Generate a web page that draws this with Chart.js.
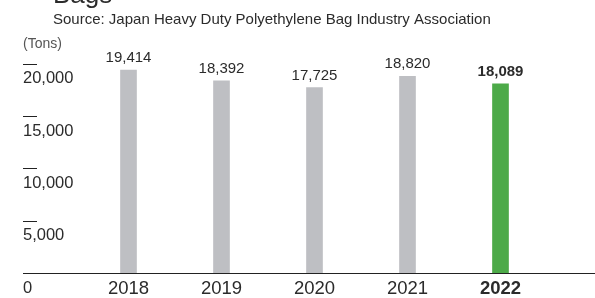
<!DOCTYPE html>
<html>
<head>
<meta charset="utf-8">
<script src="https://cdn.jsdelivr.net/npm/chart.js@4.4.0/dist/chart.umd.min.js"></script>
<style>
  body { margin: 0; background: #fff; }
  #wrap { width: 595px; height: 298px; }
</style>
</head>
<body>
<div id="wrap"><canvas id="myChart" width="595" height="298"></canvas></div>
<script>
const chartTitle = "Bags";
const chartSource = "Source: Japan Heavy Duty Polyethylene Bag Industry Association";
const unitLabel = "(Tons)";

const years = ["2018", "2019", "2020", "2021", "2022"];
const volumes = [19414, 18392, 17725, 18820, 18089];
const yTicks = [0, 5000, 10000, 15000, 20000];

const grey = "#bebfc3";
const green = "#4caa48";
const textColor = "#2b2b2b";
const lastIdx = years.length - 1;

Chart.defaults.font.family = "'Liberation Sans', Arial, Helvetica, sans-serif";

// title, axis line, tick dashes and value labels
const extras = {
    id: "extras",
    afterDatasetsDraw(chart) {
        const ctx = chart.ctx;
        const y = chart.scales.y;
        const meta = chart.getDatasetMeta(0);
        ctx.save();

        ctx.fillStyle = textColor;
        ctx.textAlign = "left";
        ctx.textBaseline = "alphabetic";
        ctx.font = "26px 'Liberation Sans', Arial, sans-serif";
        ctx.fillText(chartTitle, 53, 3);
        ctx.font = "15px 'Liberation Sans', Arial, sans-serif";
        ctx.fillText(chartSource, 53, 24);
        ctx.fillStyle = "#555";
        ctx.font = "14px 'Liberation Sans', Arial, sans-serif";
        ctx.fillText(unitLabel, 23, 48);

        ctx.strokeStyle = "#222";
        ctx.lineWidth = 1;
        const zero = Math.round(y.getPixelForValue(0)) + 0.5;
        ctx.beginPath();
        ctx.moveTo(23, zero);
        ctx.lineTo(chart.width, zero);
        ctx.stroke();

        yTicks.filter(v => v > 0).forEach(v => {
            const py = Math.round(y.getPixelForValue(v)) + 0.5;
            ctx.beginPath();
            ctx.moveTo(23, py);
            ctx.lineTo(37, py);
            ctx.stroke();
        });

        ctx.fillStyle = textColor;
        ctx.textAlign = "center";
        meta.data.forEach((bar, i) => {
            ctx.font = (i === lastIdx ? "bold " : "") + "15px 'Liberation Sans', Arial, sans-serif";
            ctx.fillText(volumes[i].toLocaleString("en-US"), bar.x, bar.y - 8);
        });
        ctx.restore();
    }
};

const ctx = document.getElementById("myChart").getContext("2d");
new Chart(ctx, {
    type: "bar",
    data: {
        labels: years,
        datasets: [{
            data: volumes,
            backgroundColor: years.map((_, i) => i === lastIdx ? green : grey),
            barThickness: 16,
            borderWidth: 0
        }]
    },
    options: {
        responsive: false,
        animation: false,
        layout: { padding: { left: 23, right: 48, top: 43, bottom: 0 } },
        plugins: {
            legend: { display: false },
            tooltip: { enabled: false }
        },
        scales: {
            x: {
                grid: { display: false, drawTicks: false },
                border: { display: false },
                ticks: {
                    color: textColor,
                    padding: 5,
                    font: c => ({ size: 18.5, weight: c.index === lastIdx ? "bold" : "normal" })
                },
                afterFit: s => { s.height = 25; }
            },
            y: {
                min: 0,
                max: 22000,
                grid: { display: false, drawTicks: false },
                border: { display: false },
                afterBuildTicks: s => { s.ticks = yTicks.map(v => ({ value: v })); },
                ticks: {
                    color: textColor,
                    crossAlign: "far",
                    labelOffset: 15,
                    font: { size: 16.5 },
                    callback: v => v.toLocaleString("en-US")
                },
                afterFit: s => { s.width = 59; }
            }
        }
    },
    plugins: [extras]
});
</script>
</body>
</html>
